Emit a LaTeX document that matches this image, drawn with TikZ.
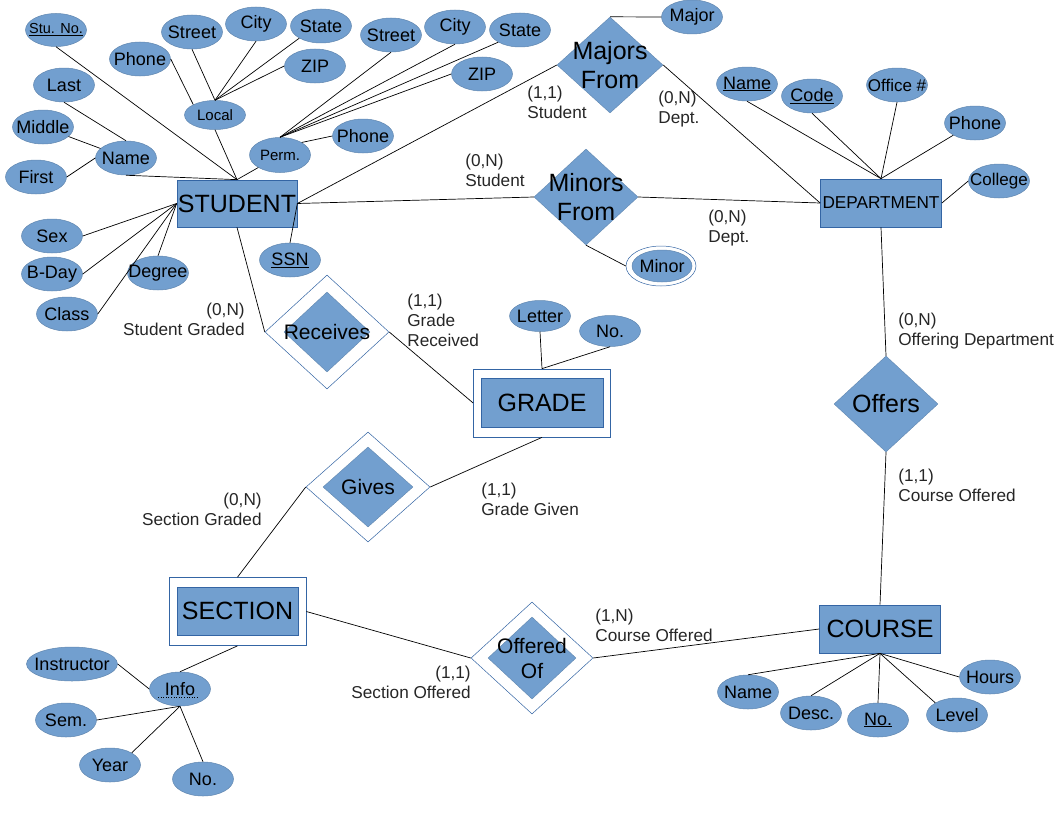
\documentclass[tikz,border=0pt]{standalone}
\usepackage{fontspec}
\setmainfont{Liberation Sans}
\usetikzlibrary{shapes.geometric}
\definecolor{erfill}{HTML}{729FCF}
\definecolor{erline}{HTML}{3465A4}

\begin{document}
\begin{tikzpicture}[x=1pt, y=-1pt, line width=0.7pt,
	entity/.style={rectangle, draw=erline, fill=erfill, inner sep=0pt, minimum width=121pt, minimum height=48pt, font=\fontsize{25}{29}\selectfont},
	weakbox/.style={rectangle, draw=erline, fill=white, inner sep=0pt, minimum width=137pt, minimum height=68pt},
	relation/.style={diamond, draw=erfill!85!black, line width=0.4pt, fill=erfill, inner sep=0pt},
	identbox/.style={diamond, draw=erline, line width=0.5pt, fill=white, inner sep=0pt},
	reltext/.style={align=center, inner sep=0pt, font=\fontsize{25}{29}\selectfont},
	attr/.style={ellipse, draw=erfill!85!black, line width=0.5pt, fill=erfill, inner xsep=-12pt, inner ysep=0pt, minimum width=61pt, minimum height=34pt, font=\fontsize{18}{21}\selectfont},
	card/.style={inner sep=0pt, text=black!85, font=\fontsize{17.2}{20}\selectfont}]
	
	\useasboundingbox (0,0) rectangle (1056,816);
	
	% Entities
	\node[entity, minimum width=120pt, minimum height=47pt] (student) at (237,203.5) {STUDENT};
	\node[entity, font=\fontsize{17.2}{20}\selectfont] (dept) at (881,203) {DEPARTMENT};
	\node[entity] (course) at (880,629) {COURSE};
	
	% Weak entities
	\node[weakbox] (grade) at (542,403) {};
	\node[entity, minimum width=122pt, minimum height=49pt] (gradein) at (542,402.5) {GRADE};
	\node[weakbox] (section) at (237.5,611.5) {};
	\node[entity] (sectionin) at (237.5,611) {SECTION};
	
	% Relationships
	\node[relation, minimum width=106pt, minimum height=96pt, label={[reltext]center:Majors\\From}] (majors) at (610,65) {};
	\node[relation, minimum width=104pt, minimum height=96pt, label={[reltext]center:Minors\\From}] (minors) at (586,197) {};
	\node[relation, minimum width=104pt, minimum height=96pt, label={[reltext]center:Offers}] (offers) at (886,404) {};
	
	% Identifying relationships
	\node[identbox, minimum width=124pt, minimum height=114pt] (receives) at (327,332) {};
	\node[relation, minimum width=86pt, minimum height=80pt, label={[reltext, font=\fontsize{21}{25}\selectfont]center:Receives}] (receivesin) at (327,332) {};
	\node[identbox, minimum width=124pt, minimum height=110pt] (gives) at (368,487) {};
	\node[relation, minimum width=90pt, minimum height=80pt, label={[reltext, font=\fontsize{21}{25}\selectfont]center:Gives}] (givesin) at (368,487) {};
	\node[identbox, minimum width=122pt, minimum height=112pt] (offered) at (532,658) {};
	\node[relation, minimum width=88pt, minimum height=82pt, label={[reltext, font=\fontsize{21}{25}\selectfont]center:Offered\\Of}] (offeredin) at (532,658) {};
	
	% Student attributes
	\node[attr, font=\fontsize{14.5}{17}\selectfont, minimum height=33pt] (stuno) at (56,30) {\underline{Stu. No.}};
	\node[attr] (sphone) at (140,59) {Phone};
	\node[attr] (lstreet) at (192,32) {Street};
	\node[attr] (lcity) at (256,24) {City};
	\node[attr] (lstate) at (321,26) {State};
	\node[attr] (lzip) at (315,66) {ZIP};
	\node[attr, minimum height=29pt, font=\fontsize{15}{18}\selectfont] (local) at (215,115) {Local};
	\node[attr, minimum height=35pt, font=\fontsize{15}{18}\selectfont] (perm) at (280,155) {Perm.};
	\node[attr] (pstreet) at (391,35) {Street};
	\node[attr] (pcity) at (455,27) {City};
	\node[attr] (pstate) at (520,30) {State};
	\node[attr] (pzip) at (482,74) {ZIP};
	\node[attr] (pphone) at (363,136) {Phone};
	\node[attr] (last) at (64,85) {Last};
	\node[attr] (middle) at (43,127) {Middle};
	\node[attr] (sname) at (126,158) {Name};
	\node[attr] (first) at (36,177) {First};
	\node[attr] (sex) at (52,236) {Sex};
	\node[attr] (bday) at (52,274) {B-Day};
	\node[attr] (class) at (67,314) {Class};
	\node[attr] (degree) at (158,273) {Degree};
	\node[attr] (ssn) at (290,260) {\underline{SSN}};
	
	% Major / Minor
	\node[attr] (major) at (692,17) {Major};
	\node[ellipse, draw=erline, line width=0.5pt, fill=white, minimum width=70pt, minimum height=40pt, inner sep=0pt] (minor) at (661,266) {};
	\node[attr, minimum width=60pt, minimum height=32pt] (minorin) at (662,266) {Minor};
	
	% Department attributes
	\node[attr] (dname) at (747,84) {\underline{Name}};
	\node[attr] (code) at (812,96) {\underline{Code}};
	\node[attr, font=\fontsize{17}{20}\selectfont] (office) at (897,85) {Office \#};
	\node[attr] (dphone) at (975,123) {Phone};
	\node[attr, font=\fontsize{17}{20}\selectfont] (college) at (999,181) {College};
	
	% Grade attributes
	\node[attr, minimum height=31pt] (letter) at (540,316) {Letter};
	\node[attr, minimum height=31pt] (gno) at (610,331) {No.};
	
	% Section attributes
	\node[attr, minimum width=91pt] (instructor) at (72,664) {Instructor};
	\node[attr] (info) at (180,689) {Info};
	\node[attr] (sem) at (66,720) {Sem.};
	\node[attr] (year) at (110,765) {Year};
	\node[attr] (sno) at (203,779) {No.};
	\draw[dotted, line width=0.6pt] ([xshift=-22pt,yshift=-8pt]info.center) -- ([xshift=19pt,yshift=-8pt]info.center);
	
	% Course attributes
	\node[attr] (cname) at (748,692) {Name};
	\node[attr] (desc) at (811,713) {Desc.};
	\node[attr] (cno) at (878,720) {\underline{No.}};
	\node[attr] (level) at (957,715) {Level};
	\node[attr] (hours) at (990,677) {Hours};
	
	% Cardinalities
	\node[card, anchor=west, align=left] (c1) at (527,102) {(1,1)\\Student};
	\node[card, anchor=west, align=left] (c2) at (658,109) {(0,N)\\Dept.};
	\node[card, anchor=west, align=left] (c3) at (465,170) {(0,N)\\Student};
	\node[card, anchor=west, align=left] (c4) at (708,228) {(0,N)\\Dept.};
	\node[card, anchor=east, align=right] (c5) at (245,319) {(0,N)\\Student Graded};
	\node[card, anchor=west, align=left] (c6) at (407,320) {(1,1)\\Grade\\Received};
	\node[card, anchor=west, align=left] (c7) at (898,331) {(0,N)\\Offering Department};
	\node[card, anchor=west, align=left] (c8) at (898,485) {(1,1)\\Course Offered};
	\node[card, anchor=west, align=left] (c9) at (481,499) {(1,1)\\Grade Given};
	\node[card, anchor=east, align=right] (c10) at (262,509) {(0,N)\\Section Graded};
	\node[card, anchor=west, align=left] (c11) at (595,625) {(1,N)\\Course Offered};
	\node[card, anchor=east, align=right] (c12) at (471,682) {(1,1)\\Section Offered};
	
	% Student attribute links
	\foreach \a in {stuno.south, sname.south, local.south, perm.south west} {
		\draw (\a) -- (student.north);
	}
	\foreach \a in {sex.east, bday.east, class.east, degree.north} {
		\draw (\a) -- (student.west);
	}
	\draw (ssn.north) -- (student.east);
	\foreach \a in {lstreet.south, lcity.south, lstate.south west, lzip.west} {
		\draw (local.north) -- (\a);
	}
	\draw (sphone.east) -- (local.north west);
	\foreach \a in {pstreet.south, pcity.south, pstate.south west, pzip.west} {
		\draw (perm.north) -- (\a);
	}
	\draw (perm.north east) -- (pphone.west);
	\draw (last.south) -- (sname.north);
	\draw (middle) -- (sname);
	\draw (first.east) -- (sname.west);
	
	% Department attribute links
	\foreach \a in {dname.south, code.south, office.south, dphone.south west} {
		\draw (\a) -- (dept.north);
	}
	\draw (college.west) -- (dept.east);
	
	% Relationship links
	\draw (student.east) -- (majors.west);
	\draw (majors.east) -- (dept.west);
	\draw (majors.north) -- (major.west);
	\draw (student.east) -- (minors.west);
	\draw (minors.east) -- (dept.west);
	\draw (minors.south) -- (minor.west);
	\draw (student.south) -- (receives.west);
	\draw (receives.east) -- (grade.west);
	\draw (letter.south) -- (grade.north);
	\draw (gno.south) -- (grade.north);
	\draw (gives.east) -- (grade.south);
	\draw (gives.west) -- (section.north);
	\draw (section.east) -- (offered.west);
	\draw (offered.east) -- (course.west);
	\draw (dept.south) -- (offers.north);
	\draw (offers.south) -- (course.north);
	
	% Section attribute links
	\draw (section.south) -- (info.north);
	\draw (instructor.east) -- (info.west);
	\foreach \a in {sem.east, year.north east, sno.north} {
		\draw (info.south) -- (\a);
	}
	
	% Course attribute links
	\foreach \a in {cname.north, desc.north, cno.north, level.north west, hours.west} {
		\draw (course.south) -- (\a);
	}
\end{tikzpicture}
\end{document}
